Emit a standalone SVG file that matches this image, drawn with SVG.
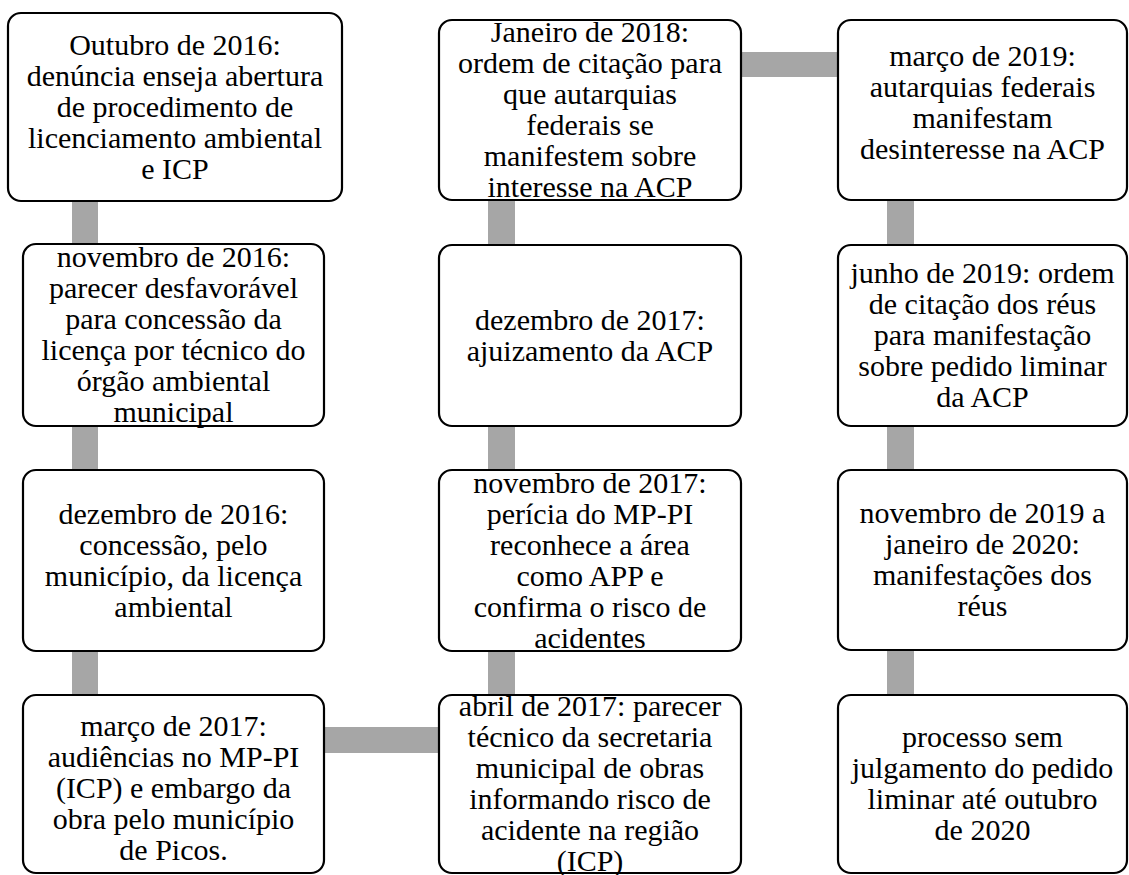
<svg xmlns="http://www.w3.org/2000/svg" width="1129" height="875" viewBox="0 0 1129 875">
<style>
.box{fill:#fff;stroke:#000;stroke-width:2.2}
.bar{fill:#A6A6A6}
text{font-family:"Liberation Serif","Times New Roman",serif;font-size:30px;fill:#000;text-anchor:middle}
</style>
<rect width="1129" height="875" fill="#fff"/>
<g id="connectors">
<rect class="bar" x="72" y="201" width="26" height="494"/>
<rect class="bar" x="324" y="727" width="114" height="26"/>
<rect class="bar" x="488" y="200" width="27" height="495"/>
<rect class="bar" x="741" y="52" width="97" height="25"/>
<rect class="bar" x="887" y="200" width="27" height="495"/>
</g>
<g id="n1">
<rect class="box" x="8" y="13" width="334" height="188" rx="13"/>
<text x="175" y="55">Outubro de 2016:</text>
<text x="175" y="86">denúncia enseja abertura</text>
<text x="175" y="117">de procedimento de</text>
<text x="175" y="148">licenciamento ambiental</text>
<text x="175" y="179">e ICP</text>
</g>
<g id="n2">
<rect class="box" x="23" y="244" width="301" height="182" rx="13"/>
<text x="173.5" y="267">novembro de 2016:</text>
<text x="173.5" y="298">parecer desfavorável</text>
<text x="173.5" y="329">para concessão da</text>
<text x="173.5" y="360">licença por técnico do</text>
<text x="173.5" y="391">órgão ambiental</text>
<text x="173.5" y="422">municipal</text>
</g>
<g id="n3">
<rect class="box" x="23" y="470" width="301" height="181" rx="13"/>
<text x="173.5" y="524">dezembro de 2016:</text>
<text x="173.5" y="555">concessão, pelo</text>
<text x="173.5" y="586">município, da licença</text>
<text x="173.5" y="617">ambiental</text>
</g>
<g id="n4">
<rect class="box" x="23" y="695" width="301" height="178" rx="13"/>
<text x="173.5" y="736">março de 2017:</text>
<text x="173.5" y="767">audiências no MP-PI</text>
<text x="173.5" y="798">(ICP) e embargo da</text>
<text x="173.5" y="829">obra pelo município</text>
<text x="173.5" y="860">de Picos.</text>
</g>
<g id="n5">
<rect class="box" x="439" y="695" width="302" height="178" rx="13"/>
<text x="590" y="716">abril de 2017: parecer</text>
<text x="590" y="747">técnico da secretaria</text>
<text x="590" y="778">municipal de obras</text>
<text x="590" y="809">informando risco de</text>
<text x="590" y="840">acidente na região</text>
<text x="590" y="871">(ICP)</text>
</g>
<g id="n6">
<rect class="box" x="439" y="470" width="302" height="181" rx="13"/>
<text x="590" y="493">novembro de 2017:</text>
<text x="590" y="524">perícia do MP-PI</text>
<text x="590" y="555">reconhece a área</text>
<text x="590" y="586">como APP e</text>
<text x="590" y="617">confirma o risco de</text>
<text x="590" y="648">acidentes</text>
</g>
<g id="n7">
<rect class="box" x="439" y="245" width="302" height="181" rx="13"/>
<text x="590" y="330">dezembro de 2017:</text>
<text x="590" y="361">ajuizamento da ACP</text>
</g>
<g id="n8">
<rect class="box" x="439" y="20" width="302" height="180" rx="13"/>
<text x="590" y="42">Janeiro de 2018:</text>
<text x="590" y="73">ordem de citação para</text>
<text x="590" y="104">que autarquias</text>
<text x="590" y="135">federais se</text>
<text x="590" y="166">manifestem sobre</text>
<text x="590" y="197">interesse na ACP</text>
</g>
<g id="n9">
<rect class="box" x="838" y="20" width="289" height="180" rx="13"/>
<text x="982.5" y="66">março de 2019:</text>
<text x="982.5" y="97">autarquias federais</text>
<text x="982.5" y="128">manifestam</text>
<text x="982.5" y="159">desinteresse na ACP</text>
</g>
<g id="n10">
<rect class="box" x="838" y="245" width="289" height="181" rx="13"/>
<text x="982.5" y="283">junho de 2019: ordem</text>
<text x="982.5" y="314">de citação dos réus</text>
<text x="982.5" y="345">para manifestação</text>
<text x="982.5" y="376">sobre pedido liminar</text>
<text x="982.5" y="407">da ACP</text>
</g>
<g id="n11">
<rect class="box" x="838" y="470" width="289" height="180" rx="13"/>
<text x="982.5" y="523">novembro de 2019 a</text>
<text x="982.5" y="554">janeiro de 2020:</text>
<text x="982.5" y="585">manifestações dos</text>
<text x="982.5" y="616">réus</text>
</g>
<g id="n12">
<rect class="box" x="838" y="695" width="289" height="178" rx="13"/>
<text x="982.5" y="747">processo sem</text>
<text x="982.5" y="778">julgamento do pedido</text>
<text x="982.5" y="809">liminar até outubro</text>
<text x="982.5" y="840">de 2020</text>
</g>
</svg>
